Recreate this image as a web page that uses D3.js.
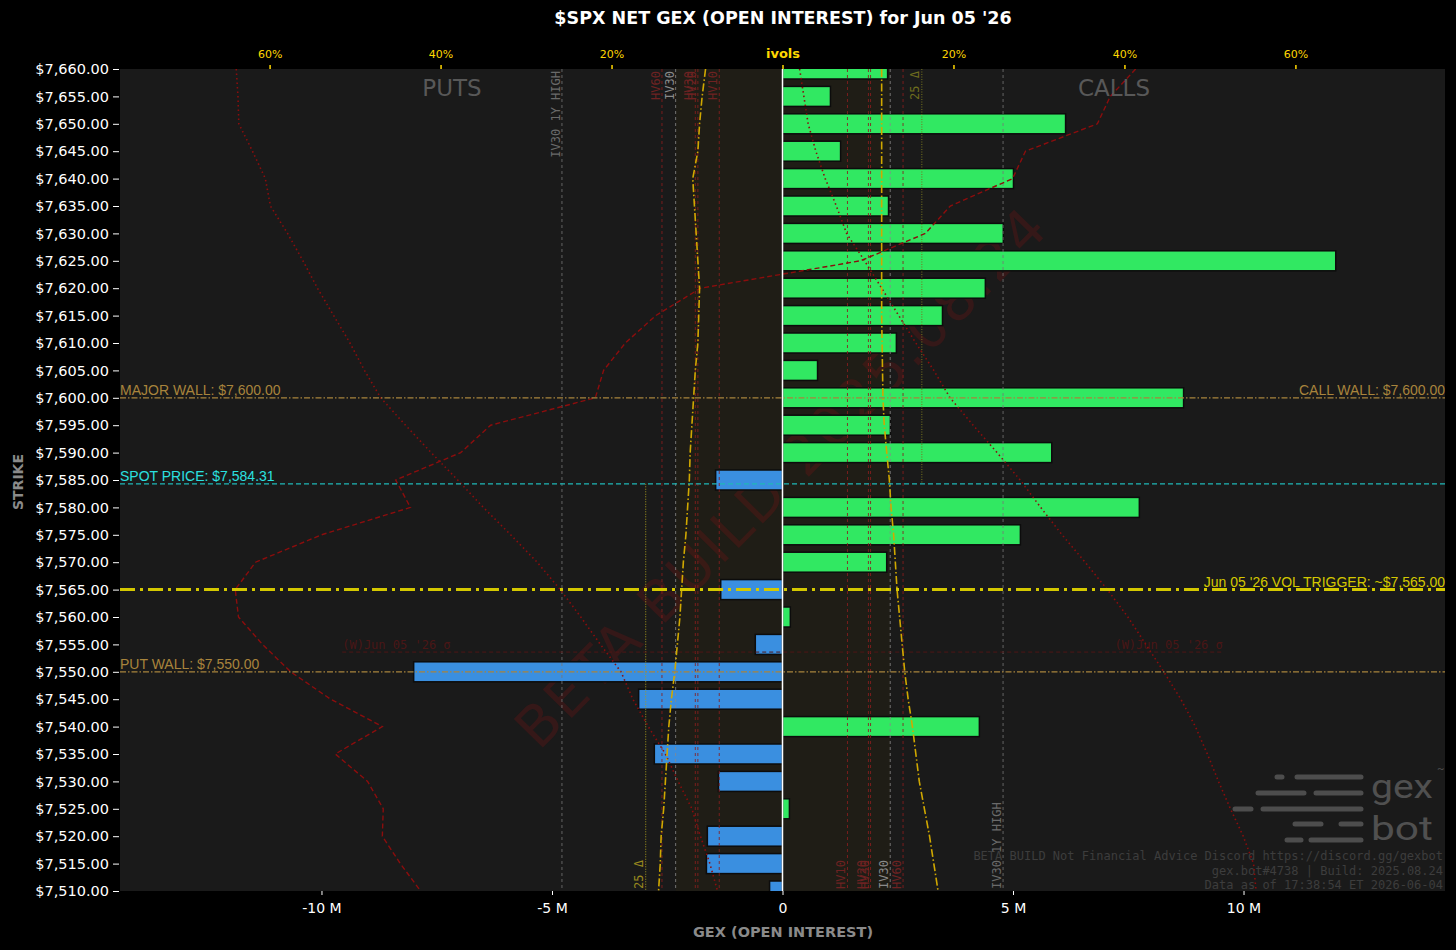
<!DOCTYPE html>
<html><head><meta charset="utf-8">
<script src="https://cdn.jsdelivr.net/npm/d3@7"></script>
<style>body{margin:0;background:#000;}svg{display:block}</style>
</head><body><svg id="c" width="1456" height="950"></svg>
<script>
// ---------- DATA ----------
const strikes = [7660,7655,7650,7645,7640,7635,7630,7625,7620,7615,7610,7605,7600,7595,7590,7585,7580,7575,7570,7565,7560,7555,7550,7545,7540,7535,7530,7525,7520,7515,7510];
// net GEX by strike, millions
const netGex = [2.28,1.04,6.14,1.26,5.01,2.30,4.79,12.00,4.40,3.47,2.47,0.76,8.70,2.34,5.84,-1.45,7.74,5.16,2.26,-1.34,0.17,-0.59,-8.00,-3.12,4.27,-2.78,-1.39,0.15,-1.63,-1.65,-0.28];
// dashed red profile, millions
const priorGex = [7.66,7.11,6.83,5.27,4.99,3.64,3.10,1.69,-1.78,-2.75,-3.41,-3.88,-4.06,-6.33,-6.98,-8.39,-8.07,-10.00,-11.43,-11.87,-11.80,-11.28,-10.67,-9.80,-8.68,-9.70,-9.00,-8.66,-8.68,-8.29,-7.85];
// implied vols (%), puts drawn left, calls drawn right
const putIvol = [9.0,9.4,9.7,9.9,10.5,10.3,10.1,9.9,9.7,9.8,9.9,10.2,10.4,10.6,10.8,10.9,11.1,11.3,11.6,11.8,12.0,12.3,12.6,13.0,13.3,13.5,13.7,13.9,14.2,14.3,14.5];
const callIvol = [11.6,11.6,11.6,11.6,11.6,11.6,11.6,11.6,11.6,11.6,11.65,11.7,11.75,11.9,12.2,12.5,12.7,13.0,13.2,13.4,13.7,14.0,14.3,14.7,15.2,15.6,16.0,16.6,17.2,17.7,18.2];
// dotted red curves (%)
const putCurve = [63.9,63.7,63.6,62.0,60.5,59.9,57.9,56.1,54.4,52.5,50.6,48.9,47.0,44.1,41.1,38.0,35.0,31.8,28.7,26.0,23.6,21.3,18.9,17.5,15.7,13.7,12.2,10.6,9.6,8.5,7.6];
const callCurve = [2.0,2.5,3.0,3.9,5.0,6.3,7.5,9.6,11.6,13.6,15.6,17.7,19.6,22.3,25.1,27.8,30.2,32.7,35.4,38.0,40.4,42.5,44.6,46.6,48.3,49.7,51.0,52.4,53.9,55.1,55.4];
// axes
const gexTicks = [-10,-5,0,5,10];
const volTicks = [-60,-40,-20,0,20,40,60];
// vertical vol reference lines (%)
const putVolLines = [{name:"IV30 1Y HIGH",vol:25.8},{name:"HV60",vol:14.1},{name:"IV30",vol:12.5},{name:"HV30",vol:10.2},{name:"HV20",vol:9.9},{name:"HV10",vol:7.4}];
const callVolLines = [{name:"IV30 1Y HIGH",vol:25.8},{name:"HV60",vol:14.1},{name:"IV30",vol:12.6},{name:"HV30",vol:10.3},{name:"HV20",vol:10.05},{name:"HV10",vol:7.6}];
const deltaVols = {put:16.0, call:16.3};
// key levels
const spot = 7584.31;
const levelLabels = {major:"MAJOR WALL: $7,600.00", call:"CALL WALL: $7,600.00", put:"PUT WALL: $7,550.00", trig:"Jun 05 '26 VOL TRIGGER: ~$7,565.00", spot:"SPOT PRICE: $7,584.31"};
const levelStrikes = {major:7600, call:7600, put:7550, trig:7565};
const sigmaLevel = 7553.6, sigmaHalfWidth = 9.55; // millions
const sigmaLabel = "(W)Jun 05 '26 σ";
const footer = ["BETA BUILD Not Financial Advice Discord https://discord.gg/gexbot","gex.bot#4738 | Build: 2025.08.24","Data as of 17:38:54 ET 2026-06-04"];
const title = "$SPX NET GEX (OPEN INTEREST) for Jun 05 '26";

// ---------- LAYOUT ----------
const L=120,R=1445,T=69,B=891;
const svg = d3.select("#c");
const x = d3.scaleLinear().domain([-14.37,14.37]).range([L,R]);
const v = d3.scaleLinear().domain([-77.5,77.5]).range([L,R]);
const y = d3.scaleLinear().domain([7510,7660]).range([B,T]);
const step = Math.abs(y(strikes[1])-y(strikes[0]));
const bh = step*0.73;
const rows = strikes.map((s,i)=>({s,g:netGex[i],pg:priorGex[i],pi:putIvol[i],ci:callIvol[i],pc:putCurve[i],cc:callCurve[i]}));

svg.append("rect").attr("width",1456).attr("height",950).attr("fill","#000");
svg.append("defs").append("clipPath").attr("id","clip").append("rect").attr("x",L).attr("y",T).attr("width",R-L).attr("height",B-T);
svg.append("rect").attr("x",L).attr("y",T).attr("width",R-L).attr("height",B-T).attr("fill","#1a1a1a");
const g = svg.append("g").attr("clip-path","url(#clip)");

// IV30 band
const iv30p = putVolLines.find(d=>d.name==="IV30").vol, iv30c = callVolLines.find(d=>d.name==="IV30").vol;
g.append("rect").attr("x",v(-iv30p)).attr("y",T).attr("width",v(iv30c)-v(-iv30p)).attr("height",B-T).attr("fill","#2a2612").attr("opacity",0.35);

// watermark
g.append("text").attr("transform",`translate(${x(0)+2},${y(7585)}) rotate(-45.5)`).attr("text-anchor","middle").attr("dominant-baseline","middle")
 .attr("font-family","DejaVu Sans").attr("font-size",56).attr("fill","#6e1414").attr("opacity",0.33).attr("letter-spacing",3).text("BETA BUILD 2025.08.24");

// logo
const logo = g.append("g").attr("stroke","#4d4d4d").attr("stroke-width",5).attr("stroke-linecap","round");
[[777,1277,1282],[777,1297,1361],[793,1258,1304],[793,1316,1361],[809,1235,1251],[809,1263,1361],[824,1295,1321],[824,1341,1361],[840,1287,1301],[840,1311,1361]].forEach(([yy,a,b])=>logo.append("line").attr("x1",a).attr("x2",b).attr("y1",yy).attr("y2",yy));
g.append("text").attr("x",1371).attr("y",798).attr("font-family","Roboto").attr("font-size",34).attr("fill","#505050").attr("textLength",62).attr("lengthAdjust","spacingAndGlyphs").text("gex");
g.append("text").attr("x",1371).attr("y",840).attr("font-family","Roboto").attr("font-size",34).attr("fill","#505050").attr("textLength",62).attr("lengthAdjust","spacingAndGlyphs").text("bot");
g.append("text").attr("x",1437).attr("y",772).attr("font-family","Roboto").attr("font-size",11).attr("fill","#505050").text("~");

// footer
footer.forEach((t,i)=>g.append("text").attr("x",1443).attr("y",860+i*14.5).attr("text-anchor","end").attr("font-family","DejaVu Sans Mono").attr("font-size",12).attr("fill","#3d3d3d").text(t));

// PUTS / CALLS
svg.append("text").attr("x",452).attr("y",96).attr("text-anchor","middle").attr("font-family","DejaVu Sans").attr("font-size",23).attr("fill","#585858").text("PUTS");
svg.append("text").attr("x",1114).attr("y",96).attr("text-anchor","middle").attr("font-family","DejaVu Sans").attr("font-size",23).attr("fill","#585858").text("CALLS");

// bars
g.selectAll("rect.bar").data(rows).enter().append("rect").attr("class","bar")
 .attr("x",d=>x(Math.min(0,d.g))).attr("width",d=>Math.abs(x(d.g)-x(0)))
 .attr("y",d=>y(d.s)-bh/2).attr("height",bh)
 .attr("fill",d=>d.g>=0?"#31e862":"#3a8fe0").attr("stroke","#0c0c0c").attr("stroke-width",1.5);

// vertical vol lines
function volLine(vol,side,name){
  const xx = side<0 ? v(-vol) : v(vol);
  const isHV = name.startsWith("HV"), is1Y = name.includes("1Y");
  g.append("line").attr("x1",xx).attr("x2",xx).attr("y1",T).attr("y2",B)
   .attr("stroke",isHV?"#8a1f1f":(is1Y?"#777":"#8a8a8a")).attr("stroke-width",1).attr("stroke-dasharray","3,3").attr("opacity",isHV?0.85:0.8);
  const lbl = g.append("text").attr("font-family","DejaVu Sans Mono").attr("font-size",12)
   .attr("fill",isHV?"#6e2222":(is1Y?"#6a6a6a":"#8a8a8a"));
  if(side<0) lbl.attr("transform",`translate(${xx-2},${T+2}) rotate(-90)`).attr("text-anchor","end").text(name);
  else lbl.attr("transform",`translate(${xx-2},${B-2}) rotate(-90)`).attr("text-anchor","start").text(name);
}
putVolLines.forEach(d=>volLine(d.vol,-1,d.name));
callVolLines.forEach(d=>volLine(d.vol,1,d.name));

// 25 delta lines
const xp = v(-deltaVols.put), xc = v(deltaVols.call);
g.append("line").attr("x1",xp).attr("x2",xp).attr("y1",y(spot)).attr("y2",B).attr("stroke","#a89a20").attr("stroke-width",1).attr("stroke-dasharray","1,1.5");
g.append("text").attr("transform",`translate(${xp-3},${B-2}) rotate(-90)`).attr("font-family","DejaVu Sans Mono").attr("font-size",12).attr("fill","#9a8a1e").text("25 Δ");
g.append("line").attr("x1",xc).attr("x2",xc).attr("y1",T).attr("y2",y(spot)).attr("stroke","#77751e").attr("stroke-width",1).attr("stroke-dasharray","1,1.5");
g.append("text").attr("transform",`translate(${xc-3},${T+2}) rotate(-90)`).attr("text-anchor","end").attr("font-family","DejaVu Sans Mono").attr("font-size",12).attr("fill","#6f6d1e").text("25 Δ");

// sigma line
const ys = y(sigmaLevel);
g.append("line").attr("x1",x(-sigmaHalfWidth)).attr("x2",x(sigmaHalfWidth)).attr("y1",ys).attr("y2",ys).attr("stroke","#4e1616").attr("stroke-width",1).attr("stroke-dasharray","4,3");
g.append("text").attr("x",x(-sigmaHalfWidth)).attr("y",ys-3).attr("font-family","DejaVu Sans Mono").attr("font-size",12).attr("fill","#4a1616").text(sigmaLabel);
g.append("text").attr("x",x(sigmaHalfWidth)).attr("y",ys-3).attr("text-anchor","end").attr("font-family","DejaVu Sans Mono").attr("font-size",12).attr("fill","#4a1616").text(sigmaLabel);

// red curves
const lineG = d3.line().x(d=>x(d.pg)).y(d=>y(d.s));
g.append("path").attr("d",lineG(rows)).attr("fill","none").attr("stroke","#8b0d0d").attr("stroke-width",1.4).attr("stroke-dasharray","5,3");
const linePC = d3.line().x(d=>v(-d.pc)).y(d=>y(d.s));
const lineCC = d3.line().x(d=>v(d.cc)).y(d=>y(d.s));
[linePC,lineCC].forEach(f=>g.append("path").attr("d",f(rows)).attr("fill","none").attr("stroke","#8b0d0d").attr("stroke-width",1.6).attr("stroke-dasharray","1.5,3"));

// ivol curves
const linePI = d3.line().x(d=>v(-d.pi)).y(d=>y(d.s));
const lineCI = d3.line().x(d=>v(d.ci)).y(d=>y(d.s));
[linePI,lineCI].forEach(f=>g.append("path").attr("d",f(rows)).attr("fill","none").attr("stroke","#d0a800").attr("stroke-width",1.6).attr("stroke-dasharray","8,2.5,1.5,2.5"));

// horizontal level lines
function hLine(s,color,w,dash){ g.append("line").attr("x1",L).attr("x2",R).attr("y1",y(s)).attr("y2",y(s)).attr("stroke",color).attr("stroke-width",w).attr("stroke-dasharray",dash); }
hLine(levelStrikes.major,"#a8843c",1.2,"6,2,1.5,2");
hLine(levelStrikes.put,"#a8843c",1.2,"6,2,1.5,2");
hLine(spot,"#1fb8b8",1.2,"5,3");
hLine(levelStrikes.trig,"#d4c800",3,"15,5,3,5");
const lf = "Liberation Sans";
function lbl(xx,s,txt,color,anchor){ g.append("text").attr("x",xx).attr("y",y(s)-3).attr("text-anchor",anchor).attr("font-family",lf).attr("font-size",14).attr("fill",color).text(txt); }
lbl(L,levelStrikes.major,levelLabels.major,"#a8843c","start");
lbl(R,levelStrikes.call,levelLabels.call,"#a8843c","end");
lbl(L,levelStrikes.put,levelLabels.put,"#a8843c","start");
lbl(L,spot,levelLabels.spot,"#2be0e0","start");
lbl(R,levelStrikes.trig,levelLabels.trig,"#d4c800","end");

// center line
g.append("line").attr("x1",x(0)).attr("x2",x(0)).attr("y1",T).attr("y2",B).attr("stroke","#fff").attr("stroke-width",1.5);

// axes
const ya = svg.append("g").attr("transform",`translate(${L-1},0)`)
 .call(d3.axisLeft(y).tickValues(strikes).tickFormat(d3.format("$,.2f")).tickSize(6).tickPadding(4));
ya.select(".domain").remove();
ya.selectAll("line").attr("stroke","#fff");
ya.selectAll("text").attr("fill","#fff").attr("font-family","DejaVu Sans").attr("font-size",14.5);

const xa = svg.append("g").attr("transform",`translate(0,${B})`)
 .call(d3.axisBottom(x).tickValues(gexTicks).tickFormat(d=>d===0?"0":d+" M").tickSize(4).tickPadding(8));
xa.select(".domain").remove();
xa.selectAll("line").attr("stroke","#fff");
xa.selectAll("text").attr("fill","#fff").attr("font-family","DejaVu Sans").attr("font-size",14);

const ta = svg.append("g").attr("transform",`translate(0,${T})`)
 .call(d3.axisTop(v).tickValues(volTicks).tickFormat(d=>d===0?"ivols":Math.abs(d)+"%").tickSize(4).tickPadding(7));
ta.select(".domain").remove();
ta.selectAll("line").attr("stroke","#ffd700").attr("stroke-width",1.5);
ta.selectAll("text").attr("fill","#ffd700").attr("font-family","DejaVu Sans").attr("font-size",11);
ta.selectAll("text").filter(d=>d===0).attr("font-weight","bold").attr("font-size",13);

// titles
svg.append("text").attr("x",783).attr("y",24).attr("text-anchor","middle").attr("font-family","DejaVu Sans").attr("font-weight","bold").attr("font-size",17.5).attr("fill","#fff").text(title);
svg.append("text").attr("x",783).attr("y",937).attr("text-anchor","middle").attr("font-family","DejaVu Sans").attr("font-weight","bold").attr("font-size",14.5).attr("fill","#8a8a8a").text("GEX (OPEN INTEREST)");
svg.append("text").attr("transform","translate(23,482) rotate(-90)").attr("text-anchor","middle").attr("font-family","DejaVu Sans").attr("font-weight","bold").attr("font-size",14).attr("fill","#8a8a8a").text("STRIKE");
</script></body></html>
